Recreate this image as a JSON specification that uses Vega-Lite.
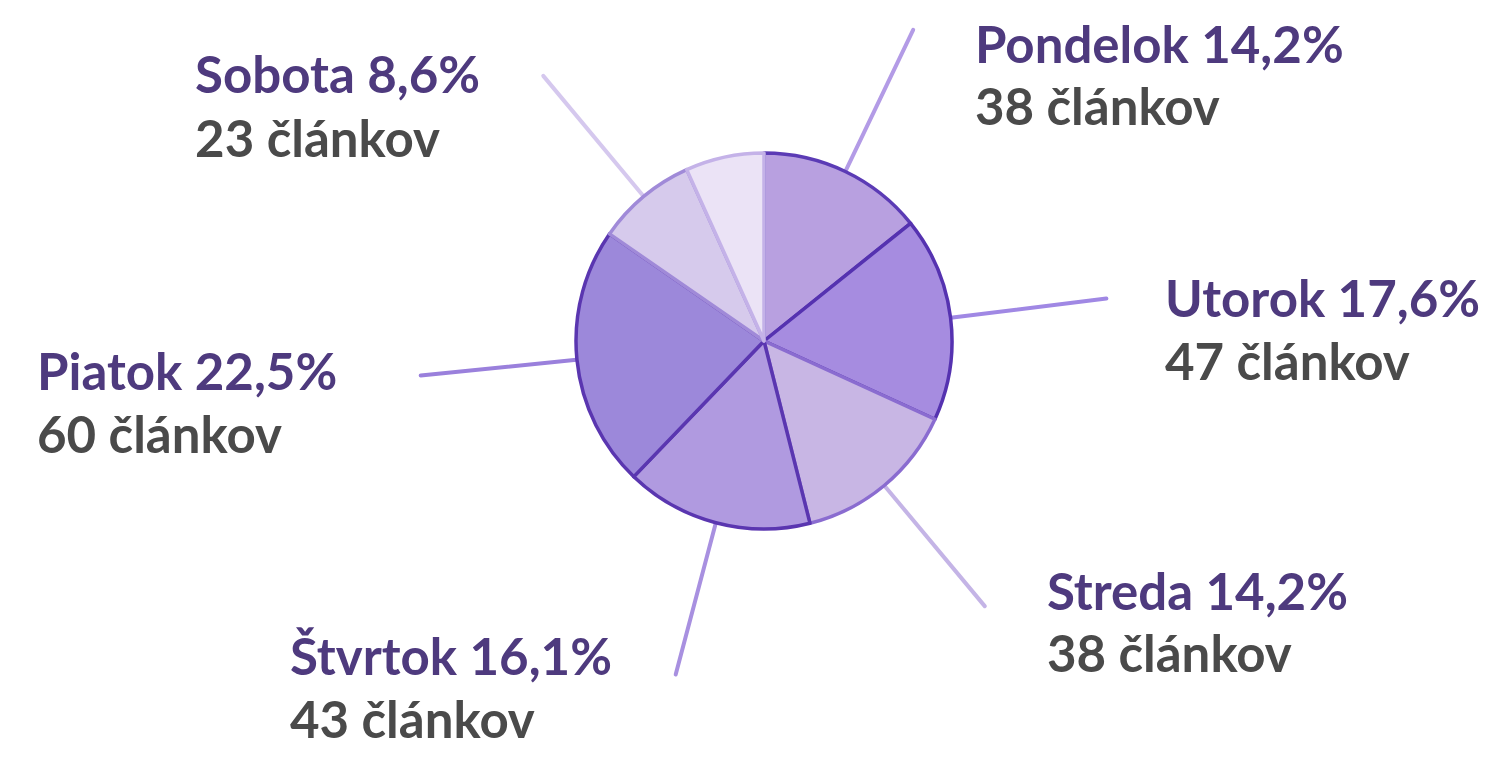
{
  "$schema": "https://vega.github.io/schema/vega-lite/v6.json",
  "autosize": {"type": "none"},
  "padding": {"left": 34, "top": 0, "right": 0, "bottom": 77},
  "width": 1460,
  "height": 682,
  "background": "#ffffff",
  "config": {"view": {"stroke": null}},
  "data": {
    "values": [
      {"day": "Pondelok", "n": 1, "count": 38, "title": "Pondelok 14,2%", "sub": "38 článkov"},
      {"day": "Utorok", "n": 2, "count": 47, "title": "Utorok 17,6%", "sub": "47 článkov"},
      {"day": "Streda", "n": 3, "count": 38, "title": "Streda 14,2%", "sub": "38 článkov"},
      {"day": "Štvrtok", "n": 4, "count": 43, "title": "Štvrtok 16,1%", "sub": "43 článkov"},
      {"day": "Piatok", "n": 5, "count": 60, "title": "Piatok 22,5%", "sub": "60 článkov"},
      {"day": "Sobota", "n": 6, "count": 23, "title": "Sobota 8,6%", "sub": "23 článkov"},
      {"day": "Nedeľa", "n": 7, "count": 18, "title": "", "sub": ""}
    ]
  },
  "encoding": {
    "theta": {"field": "count", "type": "quantitative", "stack": true},
    "order": {"field": "n", "type": "quantitative"}
  },
  "layer": [
    {
      "mark": {"type": "arc", "innerRadius": 186, "outerRadius": 345, "padAngle": 3, "filled": false, "strokeWidth": 4, "strokeCap": "round", "strokeJoin": "round"},
      "encoding": {
        "color": {
          "field": "day", "type": "nominal", "legend": null,
          "scale": {
            "domain": ["Pondelok", "Utorok", "Streda", "Štvrtok", "Piatok", "Sobota", "Nedeľa"],
            "range": ["#b39be6", "#a088e4", "#c4b4e6", "#a890e0", "#9a80dc", "#d5c8ee", "transparent"]
          }
        }
      }
    },
    {
      "mark": {"type": "arc", "outerRadius": 188, "strokeWidth": 3.5, "strokeJoin": "round"},
      "encoding": {
        "fill": {
          "field": "day", "type": "nominal", "legend": null,
          "scale": {
            "domain": ["Pondelok", "Utorok", "Streda", "Štvrtok", "Piatok", "Sobota", "Nedeľa"],
            "range": ["#b8a0e0", "#a68ce0", "#c8b6e4", "#b09ae0", "#9c88da", "#d6caec", "#ebe3f6"]
          }
        },
        "stroke": {
          "field": "day", "type": "nominal", "legend": null,
          "scale": {
            "domain": ["Pondelok", "Utorok", "Streda", "Štvrtok", "Piatok", "Sobota", "Nedeľa"],
            "range": ["#5b3bb5", "#5532b0", "#8a6cd0", "#5a36b0", "#5a36b0", "#a08ad8", "#c4b2e8"]
          }
        }
      }
    },
    {
      "mark": {"type": "text", "radius": 345, "align": "left", "baseline": "alphabetic", "dx": 61.8, "dy": 33.1, "font": "Lato", "fontWeight": "bold", "fontSize": 51, "color": "#4e3a7e"},
      "encoding": {"text": {"condition": {"test": "datum.day === 'Pondelok'", "field": "title", "type": "nominal"}, "value": ""}}
    },
    {
      "mark": {"type": "text", "radius": 345, "align": "left", "baseline": "alphabetic", "dx": 61.8, "dy": 95, "font": "Lato", "fontWeight": "bold", "fontSize": 51, "color": "#4a4a4a"},
      "encoding": {"text": {"condition": {"test": "datum.day === 'Pondelok'", "field": "sub", "type": "nominal"}, "value": ""}}
    },
    {
      "mark": {"type": "text", "radius": 345, "align": "left", "baseline": "alphabetic", "dx": 58.6, "dy": 18.5, "font": "Lato", "fontWeight": "bold", "fontSize": 51, "color": "#4e3a7e"},
      "encoding": {"text": {"condition": {"test": "datum.day === 'Utorok'", "field": "title", "type": "nominal"}, "value": ""}}
    },
    {
      "mark": {"type": "text", "radius": 345, "align": "left", "baseline": "alphabetic", "dx": 58.6, "dy": 81.5, "font": "Lato", "fontWeight": "bold", "fontSize": 51, "color": "#4a4a4a"},
      "encoding": {"text": {"condition": {"test": "datum.day === 'Utorok'", "field": "sub", "type": "nominal"}, "value": ""}}
    },
    {
      "mark": {"type": "text", "radius": 345, "align": "left", "baseline": "alphabetic", "dx": 62.2, "dy": 3.9, "font": "Lato", "fontWeight": "bold", "fontSize": 51, "color": "#4e3a7e"},
      "encoding": {"text": {"condition": {"test": "datum.day === 'Streda'", "field": "title", "type": "nominal"}, "value": ""}}
    },
    {
      "mark": {"type": "text", "radius": 345, "align": "left", "baseline": "alphabetic", "dx": 62.2, "dy": 65.9, "font": "Lato", "fontWeight": "bold", "fontSize": 51, "color": "#4a4a4a"},
      "encoding": {"text": {"condition": {"test": "datum.day === 'Streda'", "field": "sub", "type": "nominal"}, "value": ""}}
    },
    {
      "mark": {"type": "text", "radius": 345, "align": "left", "baseline": "alphabetic", "dx": -385.7, "dy": 0.5, "font": "Lato", "fontWeight": "bold", "fontSize": 51, "color": "#4e3a7e"},
      "encoding": {"text": {"condition": {"test": "datum.day === 'Štvrtok'", "field": "title", "type": "nominal"}, "value": ""}}
    },
    {
      "mark": {"type": "text", "radius": 345, "align": "left", "baseline": "alphabetic", "dx": -385.7, "dy": 63.5, "font": "Lato", "fontWeight": "bold", "fontSize": 51, "color": "#4a4a4a"},
      "encoding": {"text": {"condition": {"test": "datum.day === 'Štvrtok'", "field": "sub", "type": "nominal"}, "value": ""}}
    },
    {
      "mark": {"type": "text", "radius": 345, "align": "left", "baseline": "alphabetic", "dx": -383.7, "dy": 14.6, "font": "Lato", "fontWeight": "bold", "fontSize": 51, "color": "#4e3a7e"},
      "encoding": {"text": {"condition": {"test": "datum.day === 'Piatok'", "field": "title", "type": "nominal"}, "value": ""}}
    },
    {
      "mark": {"type": "text", "radius": 345, "align": "left", "baseline": "alphabetic", "dx": -383.7, "dy": 77.6, "font": "Lato", "fontWeight": "bold", "fontSize": 51, "color": "#4a4a4a"},
      "encoding": {"text": {"condition": {"test": "datum.day === 'Piatok'", "field": "sub", "type": "nominal"}, "value": ""}}
    },
    {
      "mark": {"type": "text", "radius": 345, "align": "left", "baseline": "alphabetic", "dx": -348.2, "dy": 17.1, "font": "Lato", "fontWeight": "bold", "fontSize": 51, "color": "#4e3a7e"},
      "encoding": {"text": {"condition": {"test": "datum.day === 'Sobota'", "field": "title", "type": "nominal"}, "value": ""}}
    },
    {
      "mark": {"type": "text", "radius": 345, "align": "left", "baseline": "alphabetic", "dx": -348.2, "dy": 81.1, "font": "Lato", "fontWeight": "bold", "fontSize": 51, "color": "#4a4a4a"},
      "encoding": {"text": {"condition": {"test": "datum.day === 'Sobota'", "field": "sub", "type": "nominal"}, "value": ""}}
    }
  ]
}
